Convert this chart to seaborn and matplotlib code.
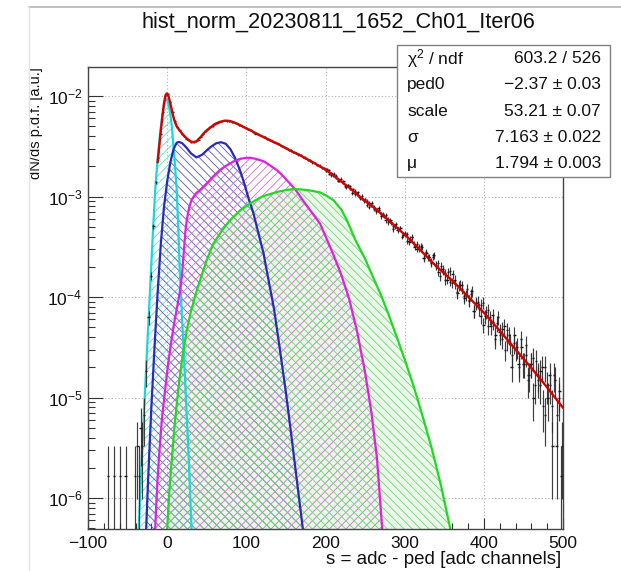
import numpy as np
import pandas as pd
import matplotlib
matplotlib.use("Agg")
import matplotlib.pyplot as plt
import seaborn as sns
from matplotlib.lines import Line2D
from matplotlib.patches import Rectangle
from matplotlib.ticker import LogLocator, LogFormatterMathtext, MultipleLocator, FixedLocator, NullFormatter

# ---------------- text ----------------
title = "hist_norm_20230811_1652_Ch01_Iter06"
x_label = "s = adc - ped [adc channels]"
y_label = "dN/ds p.d.f. [a.u.]"
stat_names = ["χ$^{2}$ / ndf", "ped0", "scale", "σ", "μ"]
stat_values = ["603.2 / 526", "−2.37 ± 0.03", "53.21 ± 0.07", "7.163 ± 0.022", "1.794 ± 0.003"]
x_ticks = [-100, 0, 100, 200, 300, 400, 500]

# ---------------- histogram (entries per bin, 1 entry = count_unit) ----------------
count_unit = 1.66e-6
sparse_x = [-74.5, -67.5, -59.5, -52.5, -40.5, -37.5, -35.5, -33.5, -31.5]
sparse_counts = [1, 1, 1, 1, 1, 2, 1, 3, 2]

hist_x = np.arange(-29.5, 499.0, 3.0)
hist_counts = [
    4, 11, 38, 98, 305, 840, 1460, 2540, 4150, 6080,
    6330, 5280, 4200, 3410, 2970, 2770, 2550, 2410, 2270, 2200,
    2120, 2110, 2140, 2200, 2380, 2500, 2700, 2810, 2960, 3040,
    3170, 3250, 3360, 3380, 3440, 3400, 3410, 3340, 3300, 3250,
    3120, 3070, 2990, 2910, 2800, 2750, 2660, 2550, 2500, 2440,
    2390, 2340, 2270, 2190, 2150, 2080, 2040, 1990, 1920, 1885,
    1830, 1760, 1730, 1670, 1640, 1580, 1560, 1490, 1470, 1400,
    1380, 1320, 1300, 1240, 1225, 1160, 1150, 1126, 1012, 1025,
    1017, 923, 868, 861, 857, 745, 774, 722, 713, 642,
    663, 576, 575, 564, 493, 519, 525, 452, 439, 446,
    383, 387, 397, 335, 335, 286, 318, 285, 292, 252,
    259, 217, 227, 237, 191, 201, 181, 189, 147, 166,
    150, 131, 157, 122, 108, 124, 110, 89, 108, 86,
    101, 81, 66, 80, 73, 59, 72, 55, 69, 44,
    53, 46, 50, 32, 43, 45, 31, 34, 25, 38,
    25, 29, 18, 28, 21, 16, 25, 19, 12, 19,
    13, 20, 10, 13, 6, 14, 9, 11, 5, 12,
    6, 8, 2, 9, 4, 7, 2,
]
# interleaved tail bins
tail_x = np.arange(201.0, 499.5, 3.0)
tail_counts = [
    1088, 1096, 978, 981, 968, 876, 907, 824, 767, 776,
    762, 655, 683, 635, 590, 614, 548, 548, 471, 501,
    470, 429, 463, 400, 400, 349, 359, 351, 306, 302,
    281, 292, 241, 253, 253, 214, 240, 203, 183, 191,
    192, 149, 169, 150, 135, 152, 125, 130, 97, 114,
    104, 90, 109, 84, 90, 68, 78, 79, 61, 63,
    56, 65, 44, 52, 54, 39, 53, 39, 31, 38,
    40, 23, 33, 27, 23, 31, 22, 25, 12, 21,
    18, 13, 23, 13, 16, 9, 13, 15, 8, 10,
    8, 12, 4, 8, 10, 5, 10, 2, 6, 1,
]

# ---------------- fit components ----------------
cyan_x = [-36, -33, -30, -27, -24, -21, -18, -15, -12, -9, -6, -4, -2, 0, 2, 4, 6, 8, 10, 12, 14, 16, 18, 20, 22, 25, 28, 31]
cyan_y = [5.0e-7, 1.74e-6, 5.5e-6, 1.66e-5, 5.0e-5, 1.48e-4, 4.4e-4, 1.2e-3, 2.4e-3, 4.2e-3, 6.5e-3, 8.1e-3, 9.3e-3, 9.3e-3,
          8.1e-3, 6.6e-3, 4.9e-3, 3.16e-3, 2.0e-3, 1.17e-3, 5.0e-4, 1.74e-4, 8.3e-5, 4.0e-5, 1.9e-5, 6.0e-6, 1.78e-6, 4.5e-7]

blue_x = [-28, -24, -20, -16, -12, -8, -4, 0, 4, 8, 12, 15, 19, 24, 30, 37, 44, 50, 56, 62, 68, 74, 80, 86, 92, 97,
          103, 109, 115, 121.6, 128, 135, 142, 150, 158, 165, 172]
blue_y = [2.5e-7, 1.58e-6, 7.9e-6, 3.16e-5, 1.12e-4, 3.4e-4, 7.9e-4, 1.41e-3, 2.19e-3, 2.95e-3, 3.43e-3, 3.5e-3, 3.39e-3,
          3.09e-3, 2.69e-3, 2.45e-3, 2.6e-3, 2.88e-3, 3.16e-3, 3.39e-3, 3.47e-3, 3.35e-3, 2.95e-3, 2.4e-3, 1.82e-3, 1.38e-3,
          9.5e-4, 6.8e-4, 4.4e-4, 2.75e-4, 1.48e-4, 7.6e-5, 3.16e-5, 1.12e-5, 3.55e-6, 1.26e-6, 4.5e-7]

magenta_x = [-16, -14, -12, -10, -6.7, -3, 1, 5, 9, 13, 16, 18.5, 21, 23, 25, 28, 31, 36, 42, 50, 58, 66, 75, 84, 92, 100,
             105, 112, 122, 130, 139, 147, 155, 162, 168, 180, 193, 202, 210, 220, 230, 240, 250, 258, 265, 272]
magenta_y = [3.5e-7, 7.9e-7, 1.58e-6, 2.8e-6, 6.0e-6, 1.12e-5, 2.1e-5, 3.55e-5, 5.6e-5, 8.3e-5, 1.12e-4, 1.58e-4, 2.8e-4,
             4.5e-4, 6.0e-4, 7.9e-4, 9.3e-4, 1.07e-3, 1.17e-3, 1.35e-3, 1.58e-3, 1.82e-3, 2.04e-3, 2.24e-3, 2.37e-3, 2.43e-3,
             2.43e-3, 2.37e-3, 2.24e-3, 2.04e-3, 1.82e-3, 1.58e-3, 1.35e-3, 1.17e-3, 1.0e-3, 7.4e-4, 5.4e-4, 3.7e-4,
             2.63e-4, 1.66e-4, 9.5e-5, 4.5e-5, 1.78e-5, 7.1e-6, 2.5e-6, 4.5e-7]

green_x = [-2, 0, 3, 6, 10, 15, 20, 25, 30, 36, 41.7, 50, 58.5, 70, 79.6, 92, 104.8, 120, 138.6, 150, 160, 170, 180, 193,
           202, 210, 220, 227, 237.5, 250, 260, 270, 280, 290, 300, 311, 322, 334, 346, 358]
green_y = [3.2e-7, 4.9e-7, 1.26e-6, 2.5e-6, 6.0e-6, 1.41e-5, 2.8e-5, 4.8e-5, 7.2e-5, 1.07e-4, 1.48e-4, 2.34e-4, 3.42e-4,
           4.68e-4, 5.83e-4, 7.24e-4, 8.55e-4, 1.0e-3, 1.11e-3, 1.16e-3, 1.19e-3, 1.175e-3, 1.15e-3, 1.1e-3, 1.01e-3,
           9.2e-4, 7.4e-4, 5.83e-4, 3.72e-4, 2.4e-4, 1.58e-4, 1.05e-4, 6.6e-5, 4.0e-5, 2.4e-5, 1.32e-5, 6.8e-6, 3.16e-6,
           1.32e-6, 4.8e-7]

red_x = [-12, -9, -6, -4, -2, -0.5, 1, 3, 5, 7, 9, 12, 16, 20, 25, 29, 33, 37, 42, 48, 54, 60, 66, 72, 77, 82, 88, 96,
         106, 117, 130, 143, 155, 168, 184, 200, 215, 231, 248, 265, 283, 303, 320, 340, 362, 380, 400, 420, 440, 460,
         480, 500]
red_y = [2.19e-3, 3.8e-3, 6.3e-3, 8.5e-3, 1.02e-2, 1.06e-2, 1.035e-2, 9.1e-3, 7.8e-3, 6.6e-3, 5.75e-3, 5.0e-3, 4.52e-3,
         4.12e-3, 3.76e-3, 3.55e-3, 3.48e-3, 3.55e-3, 3.89e-3, 4.42e-3, 4.84e-3, 5.25e-3, 5.52e-3, 5.66e-3, 5.68e-3,
         5.56e-3, 5.31e-3, 4.95e-3, 4.52e-3, 4.07e-3, 3.63e-3, 3.24e-3, 2.88e-3, 2.57e-3, 2.19e-3, 1.86e-3, 1.51e-3,
         1.21e-3, 9.3e-4, 7.35e-4, 5.5e-4, 3.98e-4, 2.92e-4, 2.02e-4, 1.41e-4, 1.01e-4, 7.0e-5, 4.62e-5, 3.02e-5,
         1.97e-5, 1.26e-5, 7.9e-6]

# ---------------- style ----------------
sns.set_style("ticks")
plt.rcParams["font.family"] = ["Liberation Sans", "DejaVu Sans"]
plt.rcParams["mathtext.fontset"] = "custom"
plt.rcParams["mathtext.rm"] = "Liberation Sans"
plt.rcParams["mathtext.it"] = "Liberation Sans:italic"
plt.rcParams["mathtext.bf"] = "Liberation Sans:bold"
plt.rcParams["hatch.linewidth"] = 0.6

W, H = 621, 571
fig = plt.figure(figsize=(W / 100, H / 100), dpi=100)
fig.patch.set_facecolor("white")


def fx(px):
    return px / W


def fy(py):
    return 1 - py / H


ax = fig.add_axes([fx(88), fy(529), fx(563) - fx(88), fy(67) - fy(529)])
ax.set_yscale("log")
ax.set_xlim(-100, 500)
ax.set_ylim(4.92e-7, 1.945e-2)

YMIN = 1e-9
components = [
    (cyan_x, cyan_y, "#1ed6d6", "#5fdede", "////", None),
    (blue_x, blue_y, "#2a2ab8", "#5a5ab0", "\\\\\\\\", None),
    (magenta_x, magenta_y, "#e020e0", "#d070d0", "////", None),
    (green_x, green_y, "#22d822", "#70d870", "\\\\\\\\", "#eaf8ea"),
]
for cx, cy, lc, hc, hatch, fc in components:
    if fc is not None:
        ax.fill_between(cx, cy, YMIN, facecolor=fc, edgecolor="none", linewidth=0, zorder=1)
    ax.fill_between(cx, cy, YMIN, facecolor="none", edgecolor=hc, hatch=hatch, linewidth=0, zorder=1.2)

for cx, cy, lc, hc, hatch, fc in components:
    df = pd.DataFrame({"x": cx, "y": cy})
    sns.lineplot(data=df, x="x", y="y", ax=ax, color=lc, linewidth=1.6, estimator=None, sort=False, zorder=2)

# histogram with Poisson error bars
all_x = np.concatenate([np.array(sparse_x), hist_x, tail_x])
all_c = np.concatenate([np.array(sparse_counts, float), np.array(hist_counts, float), np.array(tail_counts, float)])
vals = all_c * count_unit
errs = np.sqrt(all_c) * count_unit
lo = np.clip(vals - errs, YMIN, None)
hi = vals + errs
ax.vlines(all_x, lo, hi, color="#2a2a2a", linewidth=0.85, alpha=0.9, zorder=3)
ax.hlines(vals, all_x - 1.5, all_x + 1.5, color="#1a1a1a", linewidth=1.0, zorder=3)

df_red = pd.DataFrame({"x": red_x, "y": red_y})
sns.lineplot(data=df_red, x="x", y="y", ax=ax, color="#d40000", linewidth=1.7, estimator=None, sort=False, zorder=4)

ax.set_xlabel("")
ax.set_ylabel("")
ax.xaxis.set_major_locator(FixedLocator(x_ticks))
ax.xaxis.set_minor_locator(MultipleLocator(20))
ax.yaxis.set_major_locator(LogLocator(base=10, numticks=20))
ax.yaxis.set_minor_locator(LogLocator(base=10, subs=np.arange(2, 10), numticks=20))
ax.yaxis.set_major_formatter(LogFormatterMathtext())
ax.yaxis.set_minor_formatter(NullFormatter())
ax.tick_params(axis="both", which="both", direction="in", top=False, right=False, colors="#333333",
               labelcolor="#111111", labelsize=12.5, width=0.8)
ax.tick_params(axis="y", which="major", length=11, pad=4)
ax.tick_params(axis="y", which="minor", length=5)
ax.tick_params(axis="x", which="major", length=8, pad=5)
ax.tick_params(axis="x", which="minor", length=4)
ax.grid(True, which="major", linestyle=(0, (1, 2)), color="#b0b0b0", linewidth=0.8, zorder=0)
ax.set_axisbelow(True)
for s in ax.spines.values():
    s.set_color("#444444")
    s.set_linewidth(1.0)

# titles
fig.text(fx(338), fy(22), title, ha="center", va="center", fontsize=15.7, color="#111111")
fig.text(fx(561), fy(560), x_label, ha="right", va="center", fontsize=13.5, color="#111111")
fig.text(fx(43), fy(67), y_label, ha="right", va="top", rotation=90, fontsize=10.5, color="#111111")

# canvas edge
fig.add_artist(Rectangle((0, 0), fx(29), 1, transform=fig.transFigure, facecolor="white", edgecolor="none", zorder=10))
fig.add_artist(Line2D([fx(29), 1], [fy(7), fy(7)], transform=fig.transFigure, color="#b5b5b5", linewidth=1.2, zorder=11))
fig.add_artist(Line2D([fx(29), fx(29)], [fy(7), 0], transform=fig.transFigure, color="#e2e2e2", linewidth=1.0, zorder=11))

# stats box
fig.add_artist(Rectangle((fx(397), fy(177)), fx(610) - fx(397), fy(45) - fy(177), transform=fig.transFigure,
                         facecolor="white", edgecolor="#808080", linewidth=1.0, zorder=12))
row_h = (177 - 45) / 5
for i, (nm, vv) in enumerate(zip(stat_names, stat_values)):
    yc = 45 + row_h * (i + 0.5)
    fig.text(fx(407), fy(yc), nm, ha="left", va="center", fontsize=12.5, color="#111111", zorder=13)
    fig.text(fx(601), fy(yc), vv, ha="right", va="center", fontsize=12.5, color="#111111", zorder=13)

fig.savefig("out.png", dpi=100)
